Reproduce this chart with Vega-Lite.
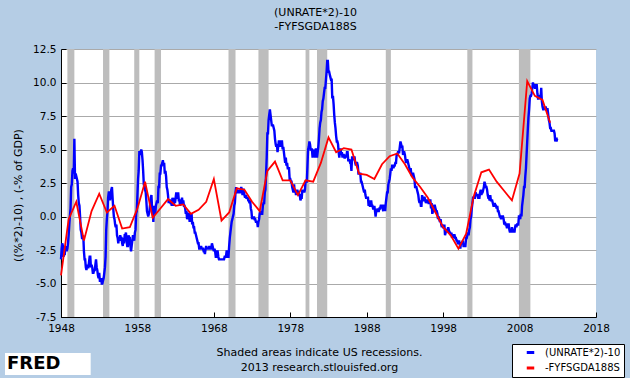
{
"$schema": "https://vega.github.io/schema/vega-lite/v6.json",
"width": 535, "height": 268,
"autosize": "none",
"padding": {"left": 61, "top": 49, "right": 34, "bottom": 61},
"background": "#b5cde5",
"config": {"view": {"stroke": null, "fill": "white"}, "font": "DejaVu Sans"},
"title": {"text": ["(UNRATE*2)-10", "-FYFSGDA188S"], "fontSize": 11, "fontWeight": "normal", "font": "DejaVu Sans", "color": "black", "anchor": "middle", "offset": 12.5, "dx": -13, "lineHeight": 14},
"datasets": {
"rec": [
{"s":"1948-11-01","e":"1949-10-01"},{"s":"1953-07-01","e":"1954-05-01"},{"s":"1957-08-01","e":"1958-04-01"},{"s":"1960-04-01","e":"1961-02-01"},{"s":"1969-12-01","e":"1970-11-01"},{"s":"1973-11-01","e":"1975-03-01"},{"s":"1980-01-01","e":"1980-07-01"},{"s":"1981-07-01","e":"1982-11-01"},{"s":"1990-07-01","e":"1991-03-01"},{"s":"2001-03-01","e":"2001-11-01"},{"s":"2007-12-01","e":"2009-06-01"}
],
"def": [
{"d":"1948-01-01","v":-4.4},{"d":"1949-01-01","v":-0.2},{"d":"1950-01-01","v":1.1},{"d":"1951-01-01","v":-1.8},{"d":"1952-01-01","v":0.4},{"d":"1953-01-01","v":1.7},{"d":"1954-01-01","v":0.3},{"d":"1955-01-01","v":0.8},{"d":"1956-01-01","v":-0.9},{"d":"1957-01-01","v":-0.8},{"d":"1958-01-01","v":0.6},{"d":"1959-01-01","v":2.6},{"d":"1960-01-01","v":-0.1},{"d":"1961-01-01","v":0.6},{"d":"1962-01-01","v":1.3},{"d":"1963-01-01","v":0.8},{"d":"1964-01-01","v":0.9},{"d":"1965-01-01","v":0.2},{"d":"1966-01-01","v":0.5},{"d":"1967-01-01","v":1.1},{"d":"1968-01-01","v":2.8},{"d":"1969-01-01","v":-0.3},{"d":"1970-01-01","v":0.3},{"d":"1971-01-01","v":2.1},{"d":"1972-01-01","v":2.0},{"d":"1973-01-01","v":1.1},{"d":"1974-01-01","v":0.4},{"d":"1975-01-01","v":3.4},{"d":"1976-01-01","v":4.1},{"d":"1977-01-01","v":2.7},{"d":"1978-01-01","v":2.7},{"d":"1979-01-01","v":1.6},{"d":"1980-01-01","v":2.7},{"d":"1981-01-01","v":2.6},{"d":"1982-01-01","v":4.0},{"d":"1983-01-01","v":5.9},{"d":"1984-01-01","v":4.8},{"d":"1985-01-01","v":5.1},{"d":"1986-01-01","v":5.0},{"d":"1987-01-01","v":3.2},{"d":"1988-01-01","v":3.1},{"d":"1989-01-01","v":2.8},{"d":"1990-01-01","v":3.9},{"d":"1991-01-01","v":4.5},{"d":"1992-01-01","v":4.7},{"d":"1993-01-01","v":3.9},{"d":"1994-01-01","v":2.9},{"d":"1995-01-01","v":2.2},{"d":"1996-01-01","v":1.4},{"d":"1997-01-01","v":0.3},{"d":"1998-01-01","v":-0.8},{"d":"1999-01-01","v":-1.4},{"d":"2000-01-01","v":-2.4},{"d":"2001-01-01","v":-1.3},{"d":"2002-01-01","v":1.5},{"d":"2003-01-01","v":3.3},{"d":"2004-01-01","v":3.5},{"d":"2005-01-01","v":2.6},{"d":"2006-01-01","v":1.9},{"d":"2007-01-01","v":1.2},{"d":"2008-01-01","v":3.2},{"d":"2009-01-01","v":10.1},{"d":"2010-01-01","v":9.0},{"d":"2011-01-01","v":8.7},{"d":"2012-01-01","v":7.0}
],
"un": [
{"d":"1948-01","v":-3.2},{"d":"1948-02","v":-2.4},{"d":"1948-03","v":-2},{"d":"1948-04","v":-2.2},{"d":"1948-05","v":-3},{"d":"1948-06","v":-2.8},{"d":"1948-07","v":-2.8},{"d":"1948-08","v":-2.2},{"d":"1948-09","v":-2.4},{"d":"1948-10","v":-2.6},{"d":"1948-11","v":-2.4},{"d":"1948-12","v":-2},
{"d":"1949-01","v":-1.4},{"d":"1949-02","v":-0.6},{"d":"1949-03","v":0},{"d":"1949-04","v":0.6},{"d":"1949-05","v":2.2},{"d":"1949-06","v":2.4},{"d":"1949-07","v":3.4},{"d":"1949-08","v":3.6},{"d":"1949-09","v":3.2},{"d":"1949-10","v":5.8},{"d":"1949-11","v":2.8},{"d":"1949-12","v":3.2},
{"d":"1950-01","v":3},{"d":"1950-02","v":2.8},{"d":"1950-03","v":2.6},{"d":"1950-04","v":1.6},{"d":"1950-05","v":1},{"d":"1950-06","v":0.8},{"d":"1950-07","v":0},{"d":"1950-08","v":-1},{"d":"1950-09","v":-1.2},{"d":"1950-10","v":-1.6},{"d":"1950-11","v":-1.6},{"d":"1950-12","v":-1.4},
{"d":"1951-01","v":-2.6},{"d":"1951-02","v":-3.2},{"d":"1951-03","v":-3.2},{"d":"1951-04","v":-3.8},{"d":"1951-05","v":-4},{"d":"1951-06","v":-3.6},{"d":"1951-07","v":-3.8},{"d":"1951-08","v":-3.8},{"d":"1951-09","v":-3.4},{"d":"1951-10","v":-3},{"d":"1951-11","v":-3},{"d":"1951-12","v":-3.8},
{"d":"1952-01","v":-3.6},{"d":"1952-02","v":-3.8},{"d":"1952-03","v":-4.2},{"d":"1952-04","v":-4.2},{"d":"1952-05","v":-4},{"d":"1952-06","v":-4},{"d":"1952-07","v":-3.6},{"d":"1952-08","v":-3.2},{"d":"1952-09","v":-3.8},{"d":"1952-10","v":-4},{"d":"1952-11","v":-4.4},{"d":"1952-12","v":-4.6},
{"d":"1953-01","v":-4.2},{"d":"1953-02","v":-4.8},{"d":"1953-03","v":-4.8},{"d":"1953-04","v":-4.6},{"d":"1953-05","v":-5},{"d":"1953-06","v":-5},{"d":"1953-07","v":-4.8},{"d":"1953-08","v":-4.6},{"d":"1953-09","v":-4.2},{"d":"1953-10","v":-3.8},{"d":"1953-11","v":-3},{"d":"1953-12","v":-1},
{"d":"1954-01","v":-0.2},{"d":"1954-02","v":0.4},{"d":"1954-03","v":1.4},{"d":"1954-04","v":1.8},{"d":"1954-05","v":1.8},{"d":"1954-06","v":1.2},{"d":"1954-07","v":1.6},{"d":"1954-08","v":2},{"d":"1954-09","v":2.2},{"d":"1954-10","v":1.4},{"d":"1954-11","v":0.6},{"d":"1954-12","v":0},
{"d":"1955-01","v":-0.2},{"d":"1955-02","v":-0.6},{"d":"1955-03","v":-0.8},{"d":"1955-04","v":-0.6},{"d":"1955-05","v":-1.4},{"d":"1955-06","v":-1.6},{"d":"1955-07","v":-2},{"d":"1955-08","v":-1.6},{"d":"1955-09","v":-1.8},{"d":"1955-10","v":-1.4},{"d":"1955-11","v":-1.6},{"d":"1955-12","v":-1.6},
{"d":"1956-01","v":-2},{"d":"1956-02","v":-2.2},{"d":"1956-03","v":-1.6},{"d":"1956-04","v":-2},{"d":"1956-05","v":-1.4},{"d":"1956-06","v":-1.4},{"d":"1956-07","v":-1.2},{"d":"1956-08","v":-1.8},{"d":"1956-09","v":-2.2},{"d":"1956-10","v":-2.2},{"d":"1956-11","v":-1.4},{"d":"1956-12","v":-1.6},
{"d":"1957-01","v":-1.6},{"d":"1957-02","v":-2.2},{"d":"1957-03","v":-2.6},{"d":"1957-04","v":-2.2},{"d":"1957-05","v":-1.8},{"d":"1957-06","v":-1.4},{"d":"1957-07","v":-1.6},{"d":"1957-08","v":-1.8},{"d":"1957-09","v":-1.2},{"d":"1957-10","v":-1},{"d":"1957-11","v":0.2},{"d":"1957-12","v":0.4},
{"d":"1958-01","v":1.6},{"d":"1958-02","v":2.8},{"d":"1958-03","v":3.4},{"d":"1958-04","v":4.8},{"d":"1958-05","v":4.8},{"d":"1958-06","v":4.6},{"d":"1958-07","v":5},{"d":"1958-08","v":4.8},{"d":"1958-09","v":4.2},{"d":"1958-10","v":3.4},{"d":"1958-11","v":2.4},{"d":"1958-12","v":2.4},
{"d":"1959-01","v":2},{"d":"1959-02","v":1.8},{"d":"1959-03","v":1.2},{"d":"1959-04","v":0.4},{"d":"1959-05","v":0.2},{"d":"1959-06","v":0},{"d":"1959-07","v":0.2},{"d":"1959-08","v":0.4},{"d":"1959-09","v":1},{"d":"1959-10","v":1.4},{"d":"1959-11","v":1.6},{"d":"1959-12","v":0.6},
{"d":"1960-01","v":0.4},{"d":"1960-02","v":-0.4},{"d":"1960-03","v":0.8},{"d":"1960-04","v":0.4},{"d":"1960-05","v":0.2},{"d":"1960-06","v":0.8},{"d":"1960-07","v":1},{"d":"1960-08","v":1.2},{"d":"1960-09","v":1},{"d":"1960-10","v":2.2},{"d":"1960-11","v":2.2},{"d":"1960-12","v":3.2},
{"d":"1961-01","v":3.2},{"d":"1961-02","v":3.8},{"d":"1961-03","v":3.8},{"d":"1961-04","v":4},{"d":"1961-05","v":4.2},{"d":"1961-06","v":3.8},{"d":"1961-07","v":4},{"d":"1961-08","v":3.2},{"d":"1961-09","v":3.4},{"d":"1961-10","v":3},{"d":"1961-11","v":2.2},{"d":"1961-12","v":2},
{"d":"1962-01","v":1.6},{"d":"1962-02","v":1},{"d":"1962-03","v":1.2},{"d":"1962-04","v":1.2},{"d":"1962-05","v":1},{"d":"1962-06","v":1},{"d":"1962-07","v":0.8},{"d":"1962-08","v":1.4},{"d":"1962-09","v":1.2},{"d":"1962-10","v":0.8},{"d":"1962-11","v":1.4},{"d":"1962-12","v":1},
{"d":"1963-01","v":1.4},{"d":"1963-02","v":1.8},{"d":"1963-03","v":1.4},{"d":"1963-04","v":1.4},{"d":"1963-05","v":1.8},{"d":"1963-06","v":1.2},{"d":"1963-07","v":1.2},{"d":"1963-08","v":0.8},{"d":"1963-09","v":1},{"d":"1963-10","v":1},{"d":"1963-11","v":1.4},{"d":"1963-12","v":1},
{"d":"1964-01","v":1.2},{"d":"1964-02","v":0.8},{"d":"1964-03","v":0.8},{"d":"1964-04","v":0.6},{"d":"1964-05","v":0.2},{"d":"1964-06","v":0.4},{"d":"1964-07","v":-0.2},{"d":"1964-08","v":0},{"d":"1964-09","v":0.2},{"d":"1964-10","v":0.2},{"d":"1964-11","v":-0.4},{"d":"1964-12","v":0},
{"d":"1965-01","v":-0.2},{"d":"1965-02","v":0.2},{"d":"1965-03","v":-0.6},{"d":"1965-04","v":-0.4},{"d":"1965-05","v":-0.8},{"d":"1965-06","v":-0.8},{"d":"1965-07","v":-1.2},{"d":"1965-08","v":-1.2},{"d":"1965-09","v":-1.4},{"d":"1965-10","v":-1.6},{"d":"1965-11","v":-1.8},{"d":"1965-12","v":-2},
{"d":"1966-01","v":-2},{"d":"1966-02","v":-2.4},{"d":"1966-03","v":-2.4},{"d":"1966-04","v":-2.4},{"d":"1966-05","v":-2.2},{"d":"1966-06","v":-2.4},{"d":"1966-07","v":-2.4},{"d":"1966-08","v":-2.4},{"d":"1966-09","v":-2.6},{"d":"1966-10","v":-2.6},{"d":"1966-11","v":-2.8},{"d":"1966-12","v":-2.4},
{"d":"1967-01","v":-2.2},{"d":"1967-02","v":-2.4},{"d":"1967-03","v":-2.4},{"d":"1967-04","v":-2.4},{"d":"1967-05","v":-2.4},{"d":"1967-06","v":-2.2},{"d":"1967-07","v":-2.4},{"d":"1967-08","v":-2.4},{"d":"1967-09","v":-2.4},{"d":"1967-10","v":-2},{"d":"1967-11","v":-2.2},{"d":"1967-12","v":-2.4},
{"d":"1968-01","v":-2.6},{"d":"1968-02","v":-2.4},{"d":"1968-03","v":-2.6},{"d":"1968-04","v":-3},{"d":"1968-05","v":-3},{"d":"1968-06","v":-2.6},{"d":"1968-07","v":-2.6},{"d":"1968-08","v":-3},{"d":"1968-09","v":-3.2},{"d":"1968-10","v":-3.2},{"d":"1968-11","v":-3.2},{"d":"1968-12","v":-3.2},
{"d":"1969-01","v":-3.2},{"d":"1969-02","v":-3.2},{"d":"1969-03","v":-3.2},{"d":"1969-04","v":-3.2},{"d":"1969-05","v":-3.2},{"d":"1969-06","v":-3},{"d":"1969-07","v":-3},{"d":"1969-08","v":-3},{"d":"1969-09","v":-2.6},{"d":"1969-10","v":-2.6},{"d":"1969-11","v":-3},{"d":"1969-12","v":-3},
{"d":"1970-01","v":-2.2},{"d":"1970-02","v":-1.6},{"d":"1970-03","v":-1.2},{"d":"1970-04","v":-0.8},{"d":"1970-05","v":-0.4},{"d":"1970-06","v":-0.2},{"d":"1970-07","v":0},{"d":"1970-08","v":0.2},{"d":"1970-09","v":0.8},{"d":"1970-10","v":1},{"d":"1970-11","v":1.8},{"d":"1970-12","v":2.2},
{"d":"1971-01","v":1.8},{"d":"1971-02","v":1.8},{"d":"1971-03","v":2},{"d":"1971-04","v":1.8},{"d":"1971-05","v":1.8},{"d":"1971-06","v":1.8},{"d":"1971-07","v":2},{"d":"1971-08","v":2.2},{"d":"1971-09","v":2},{"d":"1971-10","v":1.6},{"d":"1971-11","v":2},{"d":"1971-12","v":2},
{"d":"1972-01","v":1.6},{"d":"1972-02","v":1.4},{"d":"1972-03","v":1.6},{"d":"1972-04","v":1.4},{"d":"1972-05","v":1.4},{"d":"1972-06","v":1.4},{"d":"1972-07","v":1.2},{"d":"1972-08","v":1.2},{"d":"1972-09","v":1},{"d":"1972-10","v":1.2},{"d":"1972-11","v":0.6},{"d":"1972-12","v":0.4},
{"d":"1973-01","v":-0.2},{"d":"1973-02","v":0},{"d":"1973-03","v":-0.2},{"d":"1973-04","v":0},{"d":"1973-05","v":-0.2},{"d":"1973-06","v":-0.2},{"d":"1973-07","v":-0.4},{"d":"1973-08","v":-0.4},{"d":"1973-09","v":-0.4},{"d":"1973-10","v":-0.8},{"d":"1973-11","v":-0.4},{"d":"1973-12","v":-0.2},
{"d":"1974-01","v":0.2},{"d":"1974-02","v":0.4},{"d":"1974-03","v":0.2},{"d":"1974-04","v":0.2},{"d":"1974-05","v":0.2},{"d":"1974-06","v":0.8},{"d":"1974-07","v":1},{"d":"1974-08","v":1},{"d":"1974-09","v":1.8},{"d":"1974-10","v":2},{"d":"1974-11","v":3.2},{"d":"1974-12","v":4.4},
{"d":"1975-01","v":6.2},{"d":"1975-02","v":6.2},{"d":"1975-03","v":7.2},{"d":"1975-04","v":7.6},{"d":"1975-05","v":8},{"d":"1975-06","v":7.6},{"d":"1975-07","v":7.2},{"d":"1975-08","v":6.8},{"d":"1975-09","v":6.8},{"d":"1975-10","v":6.8},{"d":"1975-11","v":6.6},{"d":"1975-12","v":6.4},
{"d":"1976-01","v":5.8},{"d":"1976-02","v":5.4},{"d":"1976-03","v":5.2},{"d":"1976-04","v":5.4},{"d":"1976-05","v":4.8},{"d":"1976-06","v":5.2},{"d":"1976-07","v":5.6},{"d":"1976-08","v":5.6},{"d":"1976-09","v":5.2},{"d":"1976-10","v":5.4},{"d":"1976-11","v":5.6},{"d":"1976-12","v":5.6},
{"d":"1977-01","v":5},{"d":"1977-02","v":5.2},{"d":"1977-03","v":4.8},{"d":"1977-04","v":4.4},{"d":"1977-05","v":4},{"d":"1977-06","v":4.4},{"d":"1977-07","v":3.8},{"d":"1977-08","v":4},{"d":"1977-09","v":3.6},{"d":"1977-10","v":3.6},{"d":"1977-11","v":3.6},{"d":"1977-12","v":2.8},
{"d":"1978-01","v":2.8},{"d":"1978-02","v":2.6},{"d":"1978-03","v":2.6},{"d":"1978-04","v":2.2},{"d":"1978-05","v":2},{"d":"1978-06","v":1.8},{"d":"1978-07","v":2.4},{"d":"1978-08","v":1.8},{"d":"1978-09","v":2},{"d":"1978-10","v":1.6},{"d":"1978-11","v":1.8},{"d":"1978-12","v":2},
{"d":"1979-01","v":1.8},{"d":"1979-02","v":1.8},{"d":"1979-03","v":1.6},{"d":"1979-04","v":1.6},{"d":"1979-05","v":1.2},{"d":"1979-06","v":1.4},{"d":"1979-07","v":1.4},{"d":"1979-08","v":2},{"d":"1979-09","v":1.8},{"d":"1979-10","v":2},{"d":"1979-11","v":1.8},{"d":"1979-12","v":2},
{"d":"1980-01","v":2.6},{"d":"1980-02","v":2.6},{"d":"1980-03","v":2.6},{"d":"1980-04","v":3.8},{"d":"1980-05","v":5},{"d":"1980-06","v":5.2},{"d":"1980-07","v":5.6},{"d":"1980-08","v":5.4},{"d":"1980-09","v":5},{"d":"1980-10","v":5},{"d":"1980-11","v":5},{"d":"1980-12","v":4.4},
{"d":"1981-01","v":5},{"d":"1981-02","v":4.8},{"d":"1981-03","v":4.8},{"d":"1981-04","v":4.4},{"d":"1981-05","v":5},{"d":"1981-06","v":5},{"d":"1981-07","v":4.4},{"d":"1981-08","v":4.8},{"d":"1981-09","v":5.2},{"d":"1981-10","v":5.8},{"d":"1981-11","v":6.6},{"d":"1981-12","v":7},
{"d":"1982-01","v":7.2},{"d":"1982-02","v":7.8},{"d":"1982-03","v":8},{"d":"1982-04","v":8.6},{"d":"1982-05","v":8.8},{"d":"1982-06","v":9.2},{"d":"1982-07","v":9.6},{"d":"1982-08","v":9.6},{"d":"1982-09","v":10.2},{"d":"1982-10","v":10.8},{"d":"1982-11","v":11.6},{"d":"1982-12","v":11.6},
{"d":"1983-01","v":10.8},{"d":"1983-02","v":10.8},{"d":"1983-03","v":10.6},{"d":"1983-04","v":10.4},{"d":"1983-05","v":10.2},{"d":"1983-06","v":10.2},{"d":"1983-07","v":8.8},{"d":"1983-08","v":9},{"d":"1983-09","v":8.4},{"d":"1983-10","v":7.6},{"d":"1983-11","v":7},{"d":"1983-12","v":6.6},
{"d":"1984-01","v":6},{"d":"1984-02","v":5.6},{"d":"1984-03","v":5.6},{"d":"1984-04","v":5.4},{"d":"1984-05","v":4.8},{"d":"1984-06","v":4.4},{"d":"1984-07","v":5},{"d":"1984-08","v":5},{"d":"1984-09","v":4.6},{"d":"1984-10","v":4.8},{"d":"1984-11","v":4.4},{"d":"1984-12","v":4.6},
{"d":"1985-01","v":4.6},{"d":"1985-02","v":4.4},{"d":"1985-03","v":4.4},{"d":"1985-04","v":4.6},{"d":"1985-05","v":4.4},{"d":"1985-06","v":4.8},{"d":"1985-07","v":4.8},{"d":"1985-08","v":4.2},{"d":"1985-09","v":4.2},{"d":"1985-10","v":4.2},{"d":"1985-11","v":4},{"d":"1985-12","v":4},
{"d":"1986-01","v":3.4},{"d":"1986-02","v":4.4},{"d":"1986-03","v":4.4},{"d":"1986-04","v":4.2},{"d":"1986-05","v":4.4},{"d":"1986-06","v":4.4},{"d":"1986-07","v":4},{"d":"1986-08","v":3.8},{"d":"1986-09","v":4},{"d":"1986-10","v":4},{"d":"1986-11","v":3.8},{"d":"1986-12","v":3.2},
{"d":"1987-01","v":3.2},{"d":"1987-02","v":3.2},{"d":"1987-03","v":3.2},{"d":"1987-04","v":2.6},{"d":"1987-05","v":2.6},{"d":"1987-06","v":2.4},{"d":"1987-07","v":2.2},{"d":"1987-08","v":2},{"d":"1987-09","v":1.8},{"d":"1987-10","v":2},{"d":"1987-11","v":1.6},{"d":"1987-12","v":1.4},
{"d":"1988-01","v":1.4},{"d":"1988-02","v":1.4},{"d":"1988-03","v":1.4},{"d":"1988-04","v":0.8},{"d":"1988-05","v":1.2},{"d":"1988-06","v":0.8},{"d":"1988-07","v":0.8},{"d":"1988-08","v":1.2},{"d":"1988-09","v":0.8},{"d":"1988-10","v":0.8},{"d":"1988-11","v":0.6},{"d":"1988-12","v":0.6},
{"d":"1989-01","v":0.8},{"d":"1989-02","v":0.4},{"d":"1989-03","v":0},{"d":"1989-04","v":0.4},{"d":"1989-05","v":0.4},{"d":"1989-06","v":0.6},{"d":"1989-07","v":0.4},{"d":"1989-08","v":0.4},{"d":"1989-09","v":0.6},{"d":"1989-10","v":0.6},{"d":"1989-11","v":0.8},{"d":"1989-12","v":0.8},
{"d":"1990-01","v":0.8},{"d":"1990-02","v":0.6},{"d":"1990-03","v":0.4},{"d":"1990-04","v":0.8},{"d":"1990-05","v":0.8},{"d":"1990-06","v":0.4},{"d":"1990-07","v":1},{"d":"1990-08","v":1.4},{"d":"1990-09","v":1.8},{"d":"1990-10","v":1.8},{"d":"1990-11","v":2.4},{"d":"1990-12","v":2.6},
{"d":"1991-01","v":2.8},{"d":"1991-02","v":3.2},{"d":"1991-03","v":3.6},{"d":"1991-04","v":3.4},{"d":"1991-05","v":3.8},{"d":"1991-06","v":3.8},{"d":"1991-07","v":3.6},{"d":"1991-08","v":3.8},{"d":"1991-09","v":3.8},{"d":"1991-10","v":4},{"d":"1991-11","v":4},{"d":"1991-12","v":4.6},
{"d":"1992-01","v":4.6},{"d":"1992-02","v":4.8},{"d":"1992-03","v":4.8},{"d":"1992-04","v":4.8},{"d":"1992-05","v":5.2},{"d":"1992-06","v":5.6},{"d":"1992-07","v":5.4},{"d":"1992-08","v":5.2},{"d":"1992-09","v":5.2},{"d":"1992-10","v":4.6},{"d":"1992-11","v":4.8},{"d":"1992-12","v":4.8},
{"d":"1993-01","v":4.6},{"d":"1993-02","v":4.2},{"d":"1993-03","v":4},{"d":"1993-04","v":4.2},{"d":"1993-05","v":4.2},{"d":"1993-06","v":4},{"d":"1993-07","v":3.8},{"d":"1993-08","v":3.6},{"d":"1993-09","v":3.4},{"d":"1993-10","v":3.6},{"d":"1993-11","v":3.2},{"d":"1993-12","v":3},
{"d":"1994-01","v":3.2},{"d":"1994-02","v":3.2},{"d":"1994-03","v":3},{"d":"1994-04","v":2.8},{"d":"1994-05","v":2.2},{"d":"1994-06","v":2.2},{"d":"1994-07","v":2.2},{"d":"1994-08","v":2},{"d":"1994-09","v":1.8},{"d":"1994-10","v":1.6},{"d":"1994-11","v":1.2},{"d":"1994-12","v":1},
{"d":"1995-01","v":1.2},{"d":"1995-02","v":0.8},{"d":"1995-03","v":0.8},{"d":"1995-04","v":1.6},{"d":"1995-05","v":1.2},{"d":"1995-06","v":1.2},{"d":"1995-07","v":1.4},{"d":"1995-08","v":1.4},{"d":"1995-09","v":1.2},{"d":"1995-10","v":1},{"d":"1995-11","v":1.2},{"d":"1995-12","v":1.2},
{"d":"1996-01","v":1.2},{"d":"1996-02","v":1},{"d":"1996-03","v":1},{"d":"1996-04","v":1.2},{"d":"1996-05","v":1.2},{"d":"1996-06","v":0.6},{"d":"1996-07","v":1},{"d":"1996-08","v":0.2},{"d":"1996-09","v":0.4},{"d":"1996-10","v":0.4},{"d":"1996-11","v":0.8},{"d":"1996-12","v":0.8},
{"d":"1997-01","v":0.6},{"d":"1997-02","v":0.4},{"d":"1997-03","v":0.4},{"d":"1997-04","v":0.2},{"d":"1997-05","v":-0.2},{"d":"1997-06","v":0},{"d":"1997-07","v":-0.2},{"d":"1997-08","v":-0.4},{"d":"1997-09","v":-0.2},{"d":"1997-10","v":-0.6},{"d":"1997-11","v":-0.8},{"d":"1997-12","v":-0.6},
{"d":"1998-01","v":-0.8},{"d":"1998-02","v":-0.8},{"d":"1998-03","v":-0.6},{"d":"1998-04","v":-1.4},{"d":"1998-05","v":-1.2},{"d":"1998-06","v":-1},{"d":"1998-07","v":-1},{"d":"1998-08","v":-1},{"d":"1998-09","v":-0.8},{"d":"1998-10","v":-1},{"d":"1998-11","v":-1.2},{"d":"1998-12","v":-1.2},
{"d":"1999-01","v":-1.4},{"d":"1999-02","v":-1.2},{"d":"1999-03","v":-1.6},{"d":"1999-04","v":-1.4},{"d":"1999-05","v":-1.6},{"d":"1999-06","v":-1.4},{"d":"1999-07","v":-1.4},{"d":"1999-08","v":-1.6},{"d":"1999-09","v":-1.6},{"d":"1999-10","v":-1.8},{"d":"1999-11","v":-1.8},{"d":"1999-12","v":-2},
{"d":"2000-01","v":-2},{"d":"2000-02","v":-1.8},{"d":"2000-03","v":-2},{"d":"2000-04","v":-2.4},{"d":"2000-05","v":-2},{"d":"2000-06","v":-2},{"d":"2000-07","v":-2},{"d":"2000-08","v":-1.8},{"d":"2000-09","v":-2.2},{"d":"2000-10","v":-2.2},{"d":"2000-11","v":-2.2},{"d":"2000-12","v":-2.2},
{"d":"2001-01","v":-1.6},{"d":"2001-02","v":-1.6},{"d":"2001-03","v":-1.4},{"d":"2001-04","v":-1.2},{"d":"2001-05","v":-1.4},{"d":"2001-06","v":-1},{"d":"2001-07","v":-0.8},{"d":"2001-08","v":-0.2},{"d":"2001-09","v":0},{"d":"2001-10","v":0.6},{"d":"2001-11","v":1},{"d":"2001-12","v":1.4},
{"d":"2002-01","v":1.4},{"d":"2002-02","v":1.4},{"d":"2002-03","v":1.4},{"d":"2002-04","v":1.8},{"d":"2002-05","v":1.6},{"d":"2002-06","v":1.6},{"d":"2002-07","v":1.6},{"d":"2002-08","v":1.4},{"d":"2002-09","v":1.4},{"d":"2002-10","v":1.4},{"d":"2002-11","v":1.8},{"d":"2002-12","v":2},
{"d":"2003-01","v":1.6},{"d":"2003-02","v":1.8},{"d":"2003-03","v":1.8},{"d":"2003-04","v":2},{"d":"2003-05","v":2.2},{"d":"2003-06","v":2.6},{"d":"2003-07","v":2.4},{"d":"2003-08","v":2.2},{"d":"2003-09","v":2.2},{"d":"2003-10","v":2},{"d":"2003-11","v":1.6},{"d":"2003-12","v":1.4},
{"d":"2004-01","v":1.4},{"d":"2004-02","v":1.2},{"d":"2004-03","v":1.6},{"d":"2004-04","v":1.2},{"d":"2004-05","v":1.2},{"d":"2004-06","v":1.2},{"d":"2004-07","v":1},{"d":"2004-08","v":0.8},{"d":"2004-09","v":0.8},{"d":"2004-10","v":1},{"d":"2004-11","v":0.8},{"d":"2004-12","v":0.8},
{"d":"2005-01","v":0.6},{"d":"2005-02","v":0.8},{"d":"2005-03","v":0.4},{"d":"2005-04","v":0.4},{"d":"2005-05","v":0.2},{"d":"2005-06","v":0},{"d":"2005-07","v":0},{"d":"2005-08","v":-0.2},{"d":"2005-09","v":0},{"d":"2005-10","v":0},{"d":"2005-11","v":0},{"d":"2005-12","v":-0.2},
{"d":"2006-01","v":-0.6},{"d":"2006-02","v":-0.4},{"d":"2006-03","v":-0.6},{"d":"2006-04","v":-0.6},{"d":"2006-05","v":-0.8},{"d":"2006-06","v":-0.8},{"d":"2006-07","v":-0.6},{"d":"2006-08","v":-0.6},{"d":"2006-09","v":-1},{"d":"2006-10","v":-1.2},{"d":"2006-11","v":-1},{"d":"2006-12","v":-1.2},
{"d":"2007-01","v":-0.8},{"d":"2007-02","v":-1},{"d":"2007-03","v":-1.2},{"d":"2007-04","v":-1},{"d":"2007-05","v":-1.2},{"d":"2007-06","v":-0.8},{"d":"2007-07","v":-0.6},{"d":"2007-08","v":-0.8},{"d":"2007-09","v":-0.6},{"d":"2007-10","v":-0.6},{"d":"2007-11","v":-0.6},{"d":"2007-12","v":0},
{"d":"2008-01","v":0},{"d":"2008-02","v":-0.2},{"d":"2008-03","v":0.2},{"d":"2008-04","v":0},{"d":"2008-05","v":0.8},{"d":"2008-06","v":1.2},{"d":"2008-07","v":1.6},{"d":"2008-08","v":2.2},{"d":"2008-09","v":2.2},{"d":"2008-10","v":3},{"d":"2008-11","v":3.6},{"d":"2008-12","v":4.6},
{"d":"2009-01","v":5.6},{"d":"2009-02","v":6.6},{"d":"2009-03","v":7.4},{"d":"2009-04","v":8},{"d":"2009-05","v":8.8},{"d":"2009-06","v":9},{"d":"2009-07","v":9},{"d":"2009-08","v":9.2},{"d":"2009-09","v":9.6},{"d":"2009-10","v":10},{"d":"2009-11","v":9.8},{"d":"2009-12","v":9.8},
{"d":"2010-01","v":9.6},{"d":"2010-02","v":9.6},{"d":"2010-03","v":9.8},{"d":"2010-04","v":9.8},{"d":"2010-05","v":9.2},{"d":"2010-06","v":8.8},{"d":"2010-07","v":8.8},{"d":"2010-08","v":9},{"d":"2010-09","v":9},{"d":"2010-10","v":8.8},{"d":"2010-11","v":9.6},{"d":"2010-12","v":8.6},
{"d":"2011-01","v":8.2},{"d":"2011-02","v":8},{"d":"2011-03","v":8},{"d":"2011-04","v":8.2},{"d":"2011-05","v":8},{"d":"2011-06","v":8.2},{"d":"2011-07","v":8},{"d":"2011-08","v":8},{"d":"2011-09","v":8},{"d":"2011-10","v":7.6},{"d":"2011-11","v":7.2},{"d":"2011-12","v":7},
{"d":"2012-01","v":6.6},{"d":"2012-02","v":6.6},{"d":"2012-03","v":6.4},{"d":"2012-04","v":6.4},{"d":"2012-05","v":6.4},{"d":"2012-06","v":6.4},{"d":"2012-07","v":6.4},{"d":"2012-08","v":6.2},{"d":"2012-09","v":5.6},{"d":"2012-10","v":5.8},{"d":"2012-11","v":5.6},{"d":"2012-12","v":5.8},
{"d":"2013-01","v":5.8}
]
},
"layer": [
{
"data": {"name": "rec"},
"mark": {"type": "rect", "color": "#bdbdbd"},
"encoding": {
"x": {"field": "s", "type": "temporal",
"scale": {"type": "utc", "domain": [{"year": 1948, "month": 1, "date": 1, "utc": true}, {"year": 2018, "month": 1, "date": 1, "utc": true}]},
"axis": {"values": [{"year": 1948, "month": 1, "date": 1, "utc": true}, {"year": 1958, "month": 1, "date": 1, "utc": true}, {"year": 1968, "month": 1, "date": 1, "utc": true}, {"year": 1978, "month": 1, "date": 1, "utc": true}, {"year": 1988, "month": 1, "date": 1, "utc": true}, {"year": 1998, "month": 1, "date": 1, "utc": true}, {"year": 2008, "month": 1, "date": 1, "utc": true}, {"year": 2018, "month": 1, "date": 1, "utc": true}],
"tickCount": 20,
"labelExpr": "utcFormat(datum.value, '%Y')", "grid": false, "labelOverlap": false, "labelFlush": false,
"domainColor": "black", "tickColor": "black", "tickSize": -5, "labelPadding": 11,
"labelFontSize": 10.5, "labelColor": "black", "labelFont": "DejaVu Sans",
"title": ["Shaded areas indicate US recessions.", "2013 research.stlouisfed.org"],
"titleFontSize": 11, "titleFontWeight": "normal", "titleColor": "black", "titleFont": "DejaVu Sans",
"titleX": 258, "titleY": 29, "titleAlign": "center", "titleBaseline": "top", "titleLineHeight": 15}},
"x2": {"field": "e"}
}
},
{
"data": {"name": "un"},
"mark": {"type": "line", "strokeWidth": 2.4},
"encoding": {
"x": {"field": "d", "type": "temporal"},
"y": {"field": "v", "type": "quantitative",
"scale": {"domain": [-7.5, 12.5], "nice": false, "zero": false},
"axis": {"values": [-7.5, -5, -2.5, 0, 2.5, 5, 7.5, 10, 12.5], "tickCount": 20, "labelOverlap": false,
"labelExpr": "replace(format(datum.value, '.1f'), '−', '-')",
"grid": true, "gridColor": "#aaaaaa", "gridWidth": 1,
"domainColor": "black", "tickColor": "black", "tickSize": -5, "labelPadding": 10,
"labelFontSize": 10.5, "labelColor": "black", "labelFont": "DejaVu Sans",
"title": "((%*2)-10) , (-% of GDP)", "titleX": -43, "titleY": 146, "titleAngle": 270,
"titleAlign": "center", "titleBaseline": "middle", "titleFontSize": 11, "titleFontWeight": "normal", "titleColor": "black", "titleFont": "DejaVu Sans"}},
"color": {"datum": "(UNRATE*2)-10",
"scale": {"domain": ["(UNRATE*2)-10", "-FYFSGDA188S"], "range": ["#0000ff", "#ff0000"]},
"legend": {"orient": "none", "legendX": 451, "legendY": 295, "title": null, "fillColor": "white", "strokeColor": "black",
"padding": 3, "symbolType": "stroke", "symbolStrokeWidth": 3, "symbolSize": 56, "symbolOffset": 10,
"labelFontSize": 10, "labelFont": "DejaVu Sans", "labelColor": "black", "labelOffset": 9, "rowPadding": 2.5}}
}
},
{
"data": {"name": "def"},
"mark": {"type": "line", "strokeWidth": 1.8},
"encoding": {
"x": {"field": "d", "type": "temporal"},
"y": {"field": "v", "type": "quantitative"},
"color": {"datum": "-FYFSGDA188S"}
}
},
{
"data": {"values": [{}]},
"mark": {"type": "rect", "color": "white"},
"encoding": {
"x": {"datum": {"year": 1940, "month": 9, "date": 3, "utc": true}, "type": "temporal"},
"x2": {"datum": {"year": 1951, "month": 11, "date": 20, "utc": true}},
"y": {"datum": -10.19, "type": "quantitative"},
"y2": {"datum": -11.83}
}
},
{
"data": {"values": [{}]},
"mark": {"type": "text", "text": "FRED", "fontSize": 18, "fontWeight": "bold", "font": "DejaVu Sans", "align": "left", "baseline": "alphabetic", "color": "black"},
"encoding": {
"x": {"datum": {"year": 1940, "month": 12, "date": 8, "utc": true}, "type": "temporal"},
"y": {"datum": -11.4, "type": "quantitative"}
}
}
]
}
